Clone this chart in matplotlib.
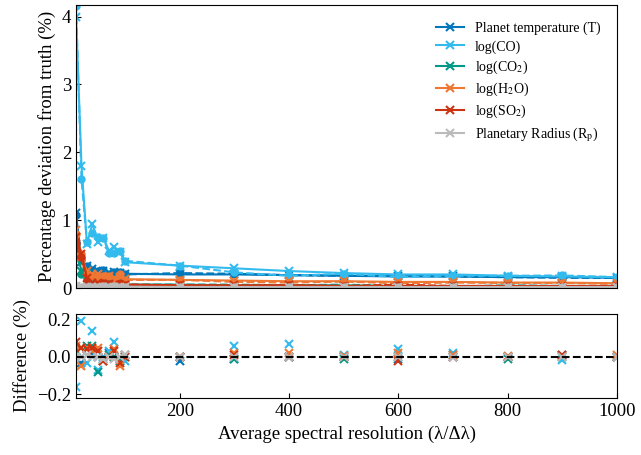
import numpy as np
import matplotlib
matplotlib.use("Agg")
import matplotlib.pyplot as plt

plt.rcParams['font.family'] = ['Liberation Serif', 'DejaVu Serif']
plt.rcParams['mathtext.fontset'] = 'stix'

# Résolution spectrale moyenne
resolution = [10, 20, 30, 40, 50, 60, 70, 80, 90, 100,
              200, 300, 400, 500, 600, 700, 800, 900, 1000]

labels = ["Planet temperature (T)", "log(CO)", r"log(CO$_2$)",
          r"log(H$_2$O)", r"log(SO$_2$)", r"Planetary Radius (R$_{\rm p}$)"]
colors = ["#0077BB", "#33BBEE", "#009988", "#EE7733", "#CC3311", "#BBBBBB"]

# Déviation (%) - série croix
dev_T = [1.1, 0.38, 0.33, 0.28, 0.25, 0.25, 0.22, 0.24, 0.22, 0.21,
         0.2, 0.2, 0.19, 0.18, 0.17, 0.17, 0.16, 0.16, 0.15]
dev_CO = [4.0, 1.8, 0.65, 0.95, 0.68, 0.74, 0.55, 0.6, 0.53, 0.38,
          0.33, 0.29, 0.25, 0.22, 0.2, 0.2, 0.18, 0.17, 0.16]
dev_CO2 = [0.62, 0.25, 0.2, 0.12, 0.1, 0.08, 0.08, 0.06, 0.06, 0.05,
           0.05, 0.04, 0.04, 0.04, 0.03, 0.03, 0.03, 0.03, 0.03]
dev_H2O = [0.85, 0.45, 0.25, 0.2, 0.2, 0.16, 0.18, 0.15, 0.16, 0.13,
           0.12, 0.11, 0.1, 0.1, 0.09, 0.09, 0.08, 0.08, 0.07]
dev_SO2 = [0.75, 0.5, 0.15, 0.08, 0.07, 0.06, 0.06, 0.05, 0.05, 0.05,
           0.04, 0.04, 0.04, 0.03, 0.03, 0.03, 0.03, 0.03, 0.03]
dev_Rp = [0.03, 0.02, 0.02, 0.02, 0.02, 0.02, 0.02, 0.02, 0.02, 0.02,
          0.015, 0.015, 0.015, 0.015, 0.015, 0.015, 0.015, 0.015, 0.015]

# Différence (%) entre les deux séries
diff_T = [0.03, -0.03, 0.01, 0.02, 0.0, -0.01, 0.02, 0.0, -0.01, 0.01,
          -0.02, -0.01, 0.0, 0.0, -0.01, 0.0, 0.0, 0.01, 0.0]
diff_CO = [-0.16, 0.19, -0.03, 0.14, -0.07, 0.0, 0.03, 0.08, -0.02, -0.02,
           0.0, 0.06, 0.07, 0.01, 0.04, 0.02, 0.0, -0.015, 0.0]
diff_CO2 = [0.03, 0.05, 0.06, 0.06, -0.08, -0.02, 0.01, 0.0, -0.02, 0.0,
            0.0, -0.01, 0.0, -0.01, 0.0, 0.01, -0.01, 0.0, 0.0]
diff_H2O = [0.06, -0.05, 0.05, 0.03, 0.05, -0.02, 0.0, 0.04, -0.05, 0.01,
            0.0, 0.02, 0.02, 0.005, 0.02, 0.01, 0.005, 0.005, 0.01]
diff_SO2 = [0.08, 0.05, 0.04, 0.05, 0.03, -0.02, 0.0, 0.03, -0.03, 0.0,
            0.0, 0.01, 0.0, 0.0, -0.02, 0.0, 0.0, 0.01, 0.0]
diff_Rp = [0.0, 0.0, 0.01, 0.0, 0.0, -0.01, 0.0, -0.01, 0.0, 0.01,
           0.0, 0.0, 0.0, 0.0, 0.0, 0.0, 0.0, 0.0, 0.0]

devs = [dev_T, dev_CO, dev_CO2, dev_H2O, dev_SO2, dev_Rp]
diffs = [diff_T, diff_CO, diff_CO2, diff_H2O, diff_SO2, diff_Rp]

fig = plt.figure(figsize=(6.41, 4.55), dpi=100)
ax1 = fig.add_axes([0.1186, 0.367, 0.844, 0.622])
ax2 = fig.add_axes([0.1186, 0.1253, 0.844, 0.1846], sharex=ax1)

for lab, col, dev, diff in zip(labels, colors, devs, diffs):
    dev = np.array(dev)
    diff = np.array(diff)
    ax1.plot(resolution, dev, '-', marker='x', color=col, lw=1.5, ms=6, mew=1.5, label=lab)
    ax1.plot(resolution, dev - diff, '--', marker='o', color=col, lw=1.5, ms=5)
    ax2.plot(resolution, diff, 'x', color=col, ms=6, mew=1.5)

ax2.axhline(0, color='black', ls='--', lw=1.5)

ax1.set_xlim(10, 1000)
ax1.set_ylim(0, 4.17)
ax2.set_ylim(-0.22, 0.23)
ax1.set_yticks([0, 1, 2, 3, 4])
ax2.set_yticks([-0.2, 0.0, 0.2])
ax2.set_xticks([200, 400, 600, 800, 1000])

ax1.tick_params(axis='x', labelbottom=False, length=0)
ax1.tick_params(axis='y', direction='in', labelsize=13.5)
ax2.tick_params(direction='in', labelsize=13.5)

ax1.set_ylabel("Percentage deviation from truth (%)", fontsize=13.5)
ax2.set_ylabel("Difference (%)", fontsize=13.5)
ax2.set_xlabel("Average spectral resolution (λ/Δλ)", fontsize=13.5)

ax1.legend(loc='upper right', frameon=False, fontsize=10, labelspacing=0.35,
           borderaxespad=0.8)

fig.savefig("out.png", dpi=100)
